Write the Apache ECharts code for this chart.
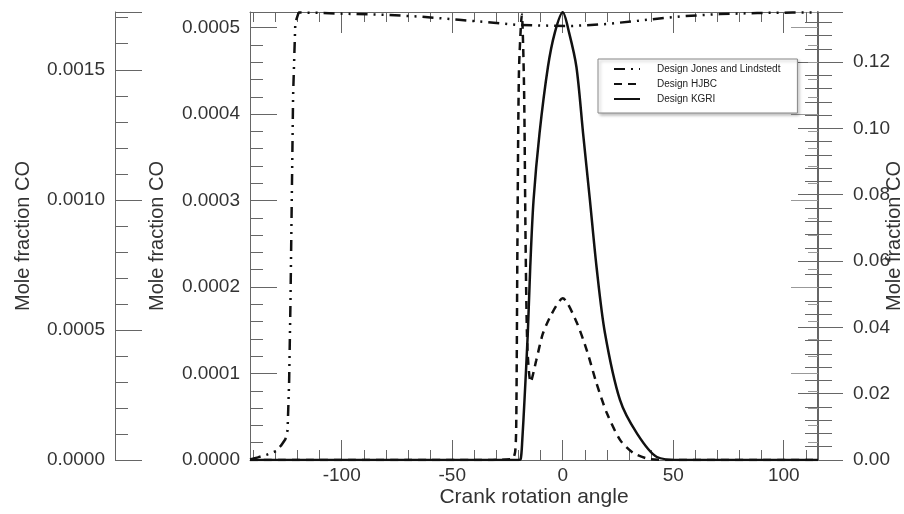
<!DOCTYPE html>
<html>
<head>
<meta charset="utf-8">
<script src="https://cdn.jsdelivr.net/npm/echarts@6/dist/echarts.min.js"></script>
<style>
  html, body { margin: 0; padding: 0; background: #fff; }
  #main { width: 904px; height: 514px; }
</style>
</head>
<body>
<div id="main"></div>
<script>
// Design Jones and Lindstedt (outer left axis)
const jonesAngle = [-141.5, -138, -134, -130, -127.5, -125.5, -124.5, -123.8, -123.2, -122.6, -122, -121, -119.5,
  -112, -97, -80, -64, -47, -30, -21, -10, 4, 20, 36, 53, 71, 88, 104, 115.5];
const jonesCO = [0.000002, 0.00001, 0.00002, 0.000033, 0.000055, 0.00008, 0.000115, 0.0003, 0.0006, 0.0010, 0.0014, 0.00168, 0.00172,
  0.001719, 0.001715, 0.001711, 0.001704, 0.001692, 0.00168, 0.001673, 0.00167, 0.001668, 0.001676, 0.00169, 0.001705, 0.001714, 0.001718, 0.00172, 0.00172];

// Design HJBC (inner left axis)
const hjbcAngle = [-141.5, -40, -23, -21.5, -21, -20.5, -19.8, -18.5, -17.5, -16.8, -16, -14.5, -12, -9, -5, 0,
  6, 11, 15.3, 20, 26, 32, 39.5, 50, 115.5];
const hjbcCO = [0, 0, 0.000001, 0.00001, 0.00005, 0.00025, 0.00045, 0.000515, 0.00043, 0.00025, 0.00013, 0.00009, 0.000115, 0.000146, 0.000169, 0.000187,
  0.000161, 0.000126, 0.0000885, 0.000054, 0.000023, 0.000008, 0.000001, 0, 0];

// Design KGRI (right axis)
const kgriAngle = [-141.5, -25, -20, -19, -18.3, -17.3, -15.8, -14.7, -13.2, -10.5, -6.7, -3.6, 0,
  2.9, 6.2, 9.2, 12.3, 15.3, 19.1, 25.9, 33.5, 42.6, 53, 115.5];
const kgriCO = [0, 0, 0, 0.0003, 0.006, 0.0181, 0.0383, 0.0582, 0.0784, 0.0985, 0.1185, 0.1288, 0.135,
  0.1288, 0.1185, 0.0986, 0.0784, 0.0582, 0.0383, 0.0181, 0.0081, 0.0009, 0, 0];

const seriesNames = ['Design Jones and Lindstedt', 'Design HJBC', 'Design KGRI'];

const font = 'Liberation Sans, Arial, sans-serif';
const axisGrey = '#666';
const textColor = '#333';

function pairs(xs, ys) {
  return xs.map((x, i) => [x, ys[i]]);
}
function onStep(v, step) {
  const r = v / step;
  return Math.abs(r - Math.round(r)) < 1e-6;
}

const chart = echarts.init(document.getElementById('main'));

const yBase = {
  type: 'value',
  min: 0,
  splitLine: { show: false },
  axisLine: { show: true, onZero: false, lineStyle: { color: axisGrey, width: 1 } },
  nameLocation: 'middle',
  nameRotate: 90,
  nameMoveOverlap: false,
  nameTextStyle: { fontFamily: font, fontSize: 20, color: textColor }
};

chart.setOption({
  animation: false,
  grid: { left: 250, right: 86, top: 12, bottom: 54, outerBoundsMode: 'none', containLabel: false },
  legend: {
    data: seriesNames,
    orient: 'vertical',
    left: 598,
    top: 59,
    padding: [5, 17, 9, 15],
    itemGap: 5,
    itemWidth: 26,
    itemHeight: 10,
    itemStyle: { opacity: 0 },
    backgroundColor: '#fff',
    borderColor: '#888',
    borderWidth: 1,
    shadowColor: 'rgba(0,0,0,0.25)',
    shadowBlur: 3,
    shadowOffsetX: 2,
    shadowOffsetY: 2,
    textStyle: { fontFamily: font, fontSize: 10, color: '#222', padding: [0, 0, 0, 12] }
  },
  xAxis: [
    {
      type: 'value',
      min: -141.5,
      max: 115.5,
      splitNumber: 5,
      position: 'bottom',
      name: 'Crank rotation angle',
      nameLocation: 'middle',
      nameGap: 27,
      nameMoveOverlap: false,
      nameTextStyle: { fontFamily: font, fontSize: 21, color: textColor, verticalAlign: 'top' },
      splitLine: { show: false },
      axisLine: { onZero: false, lineStyle: { color: axisGrey } },
      axisTick: { inside: true, length: 20, lineStyle: { color: axisGrey } },
      minorTick: { show: true, splitNumber: 5, length: 10, lineStyle: { color: axisGrey } },
      axisLabel: {
        margin: 6, fontFamily: font, fontSize: 19, color: textColor,
        showMinLabel: false, showMaxLabel: false,
        formatter: v => onStep(v, 50) ? String(Math.round(v)) : ''
      }
    },
    {
      type: 'value',
      min: -141.5,
      max: 115.5,
      splitNumber: 5,
      position: 'top',
      splitLine: { show: false },
      axisLine: { onZero: false, lineStyle: { color: axisGrey } },
      axisTick: { inside: true, length: 21, lineStyle: { color: axisGrey } },
      minorTick: { show: true, splitNumber: 5, length: 10, lineStyle: { color: axisGrey } },
      axisLabel: { show: false }
    }
  ],
  yAxis: [
    Object.assign({}, yBase, {
      // inner left
      max: 0.000518,
      splitNumber: 5,
      position: 'left',
      name: 'Mole fraction CO',
      nameGap: 83,
      axisTick: { inside: true, length: 27, lineStyle: { color: axisGrey } },
      minorTick: { show: true, splitNumber: 5, length: 13, lineStyle: { color: axisGrey } },
      axisLabel: {
        margin: 10, fontFamily: font, fontSize: 19, color: textColor,
        formatter: v => onStep(v, 0.0001) ? v.toFixed(4) : ''
      }
    }),
    Object.assign({}, yBase, {
      // outer left
      max: 0.001722,
      splitNumber: 4,
      position: 'left',
      offset: 135,
      name: 'Mole fraction CO',
      nameGap: 82,
      axisTick: { inside: true, length: 27, lineStyle: { color: axisGrey } },
      minorTick: { show: true, splitNumber: 5, length: 13, lineStyle: { color: axisGrey } },
      axisLabel: {
        margin: 10, fontFamily: font, fontSize: 19, color: textColor,
        formatter: v => onStep(v, 0.0005) ? v.toFixed(4) : ''
      }
    }),
    Object.assign({}, yBase, {
      // right
      max: 0.1351,
      splitNumber: 7,
      position: 'right',
      name: 'Mole fraction CO',
      nameGap: 66,
      axisLine: { show: true, onZero: false, lineStyle: { color: '#333', width: 1.5 } },
      axisTick: { inside: false, length: 25, lineStyle: { color: axisGrey } },
      minorTick: { show: true, splitNumber: 5, length: 14, lineStyle: { color: axisGrey } },
      axisLabel: {
        margin: 35, fontFamily: font, fontSize: 19, color: textColor,
        formatter: v => onStep(v, 0.02) ? v.toFixed(2) : ''
      }
    }),
    Object.assign({}, yBase, {
      // right axis ticks mirrored into the plot
      max: 0.1351,
      splitNumber: 7,
      position: 'right',
      axisLine: { show: false, onZero: false },
      axisTick: { inside: true, length: 20, lineStyle: { color: axisGrey } },
      minorTick: { show: true, splitNumber: 5, length: 13, lineStyle: { color: axisGrey } },
      axisLabel: { show: false }
    }),
    Object.assign({}, yBase, {
      // inner left ticks mirrored on the right side
      max: 0.000518,
      splitNumber: 5,
      position: 'right',
      axisLine: { show: false, onZero: false },
      axisTick: { inside: true, length: 27, lineStyle: { color: '#999' } },
      minorTick: { show: true, splitNumber: 5, length: 10, lineStyle: { color: '#999' } },
      axisLabel: { show: false }
    })
  ],
  series: [
    {
      name: seriesNames[0],
      type: 'line',
      xAxisIndex: 0,
      yAxisIndex: 1,
      symbol: 'none',
      data: pairs(jonesAngle, jonesCO),
      itemStyle: { color: '#111' },
      lineStyle: { color: '#111', width: 2.5, type: [11, 6, 2, 6, 2, 6] }
    },
    {
      name: seriesNames[1],
      type: 'line',
      xAxisIndex: 0,
      yAxisIndex: 0,
      symbol: 'none',
      smooth: 0.25,
      data: pairs(hjbcAngle, hjbcCO),
      itemStyle: { color: '#111' },
      lineStyle: { color: '#111', width: 2.5, type: [8, 6] }
    },
    {
      name: seriesNames[2],
      type: 'line',
      xAxisIndex: 0,
      yAxisIndex: 2,
      symbol: 'none',
      smooth: 0.3,
      data: pairs(kgriAngle, kgriCO),
      itemStyle: { color: '#111' },
      lineStyle: { color: '#111', width: 2.5 }
    }
  ]
});
</script>
</body>
</html>
